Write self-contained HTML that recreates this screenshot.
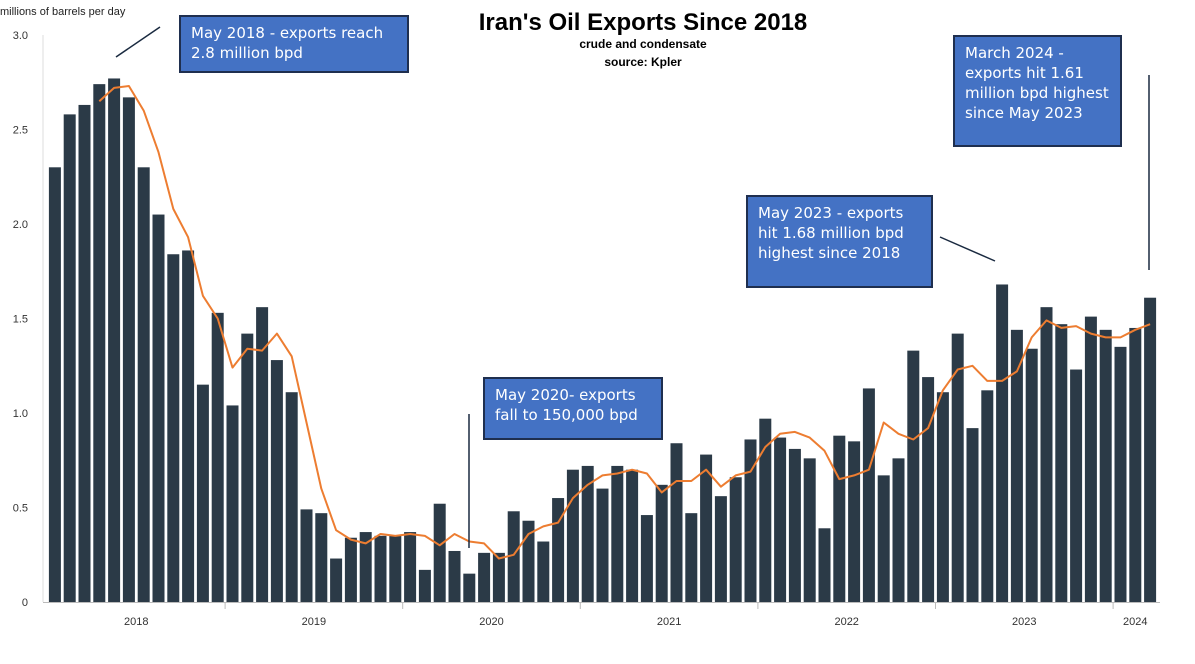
<!DOCTYPE html>
<html><head><meta charset="utf-8">
<style>
body{margin:0;background:#fff;width:1195px;height:664px;overflow:hidden;font-family:"Liberation Sans",sans-serif;}
.box{position:absolute;background:#4472C4;border:2px solid #1f2f4f;color:#fff;font-family:"DejaVu Sans","Liberation Sans",sans-serif;font-size:15px;line-height:20px;box-sizing:border-box;padding:6px 10px;}
</style></head><body>
<svg id="chart" width="1195" height="664" style="position:absolute;left:0;top:0"></svg>
<div class="box" style="left:179px;top:15px;width:230px;height:58px;">May 2018 - exports reach 2.8 million bpd</div>
<div class="box" style="left:953px;top:35px;width:169px;height:112px;">March 2024 - exports hit 1.61 million bpd highest since May 2023</div>
<div class="box" style="left:746px;top:195px;width:187px;height:93px;">May 2023 - exports hit 1.68 million bpd highest since 2018</div>
<div class="box" style="left:483px;top:377px;width:180px;height:63px;">May 2020- exports fall to 150,000 bpd</div>
<script>
const years=["2018","2019","2020","2021","2022","2023","2024"];
const yTicks=[0,0.5,1.0,1.5,2.0,2.5,3.0];
const exportsValues=[2.30,2.58,2.63,2.74,2.77,2.67,2.30,2.05,1.84,1.86,1.15,1.53,
1.04,1.42,1.56,1.28,1.11,0.49,0.47,0.23,0.34,0.37,0.35,0.35,
0.37,0.17,0.52,0.27,0.15,0.26,0.26,0.48,0.43,0.32,0.55,0.70,
0.72,0.60,0.72,0.70,0.46,0.62,0.84,0.47,0.78,0.56,0.66,0.86,
0.97,0.87,0.81,0.76,0.39,0.88,0.85,1.13,0.67,0.76,1.33,1.19,
1.11,1.42,0.92,1.12,1.68,1.44,1.34,1.56,1.47,1.23,1.51,1.44,
1.35,1.45,1.61];
const avgStart=3;
const avgValues=[2.65,2.72,2.73,2.60,2.38,2.08,1.93,1.62,1.50,
1.24,1.34,1.33,1.42,1.30,0.95,0.60,0.38,0.33,0.31,0.36,0.35,
0.36,0.35,0.30,0.36,0.32,0.31,0.23,0.25,0.36,0.40,0.42,0.55,
0.62,0.67,0.68,0.70,0.68,0.58,0.64,0.64,0.70,0.61,0.67,0.69,
0.82,0.89,0.90,0.87,0.80,0.65,0.67,0.70,0.95,0.89,0.86,0.92,
1.12,1.23,1.25,1.17,1.17,1.22,1.40,1.49,1.45,1.46,1.42,1.40,
1.40,1.44,1.47];
const svg=document.getElementById('chart');const NS='http://www.w3.org/2000/svg';
const x0=47.5,mw=14.8,yBase=602,yTop=35,yMax=3.0;
const X=i=>x0+mw*(i+0.5);
const Y=v=>yBase-(v/yMax)*(yBase-yTop);
function mk(t,a,txt){const e=document.createElementNS(NS,t);for(const k in a)e.setAttribute(k,a[k]);if(txt!=null)e.textContent=txt;svg.appendChild(e);return e;}
let e;
e=mk('text',{x:643,y:30,'text-anchor':'middle','font-size':24,'font-weight':'bold',fill:'#000'},"Iran's Oil Exports Since 2018");


e=mk('text',{x:643,y:48,'text-anchor':'middle','font-size':12,'font-weight':'bold'},"crude and condensate");


e=mk('text',{x:643,y:66,'text-anchor':'middle','font-size':12,'font-weight':'bold'},"source: Kpler");


e=mk('text',{x:0,y:15,'font-size':11,fill:'#222'},"millions of barrels per day");


mk('line',{x1:43,y1:yTop,x2:43,y2:yBase,stroke:'#ddd'});
yTicks.forEach(v=>{e=mk('text',{x:28,y:Y(v)+4,'text-anchor':'end','font-size':11,fill:'#333'},v===0?'0':v.toFixed(1));

});
exportsValues.forEach((v,i)=>{e=mk('rect',{x:X(i)-6,y:Y(v),width:12,height:yBase-Y(v),fill:'#2B3A47'});

});
mk('line',{x1:43,y1:yBase+0.5,x2:1160,y2:yBase+0.5,stroke:'#bbb'});
years.forEach((y,k)=>{const b=x0+mw*12*k;
if(k>0)mk('line',{x1:b,y1:yBase,x2:b,y2:yBase+7,stroke:'#bbb'});
const end=Math.min(b+mw*12,x0+mw*exportsValues.length);
e=mk('text',{x:(b+end)/2,y:625,'text-anchor':'middle','font-size':11,fill:'#333'},y);

});
let d='';avgValues.forEach((v,j)=>{d+=(j?'L':'M')+X(j+avgStart).toFixed(1)+' '+Y(v).toFixed(1);});
e=mk('path',{d:d,fill:'none',stroke:'#ED7D31','stroke-width':2,'stroke-linejoin':'round'});


[[116,57,160,27],[1149,75,1149,270],[940,237,995,261],[469,414,469,548]].forEach(l=>{
e=mk('line',{x1:l[0],y1:l[1],x2:l[2],y2:l[3],stroke:'#1a2a40','stroke-width':1.5});

});
</script>
</body></html>
